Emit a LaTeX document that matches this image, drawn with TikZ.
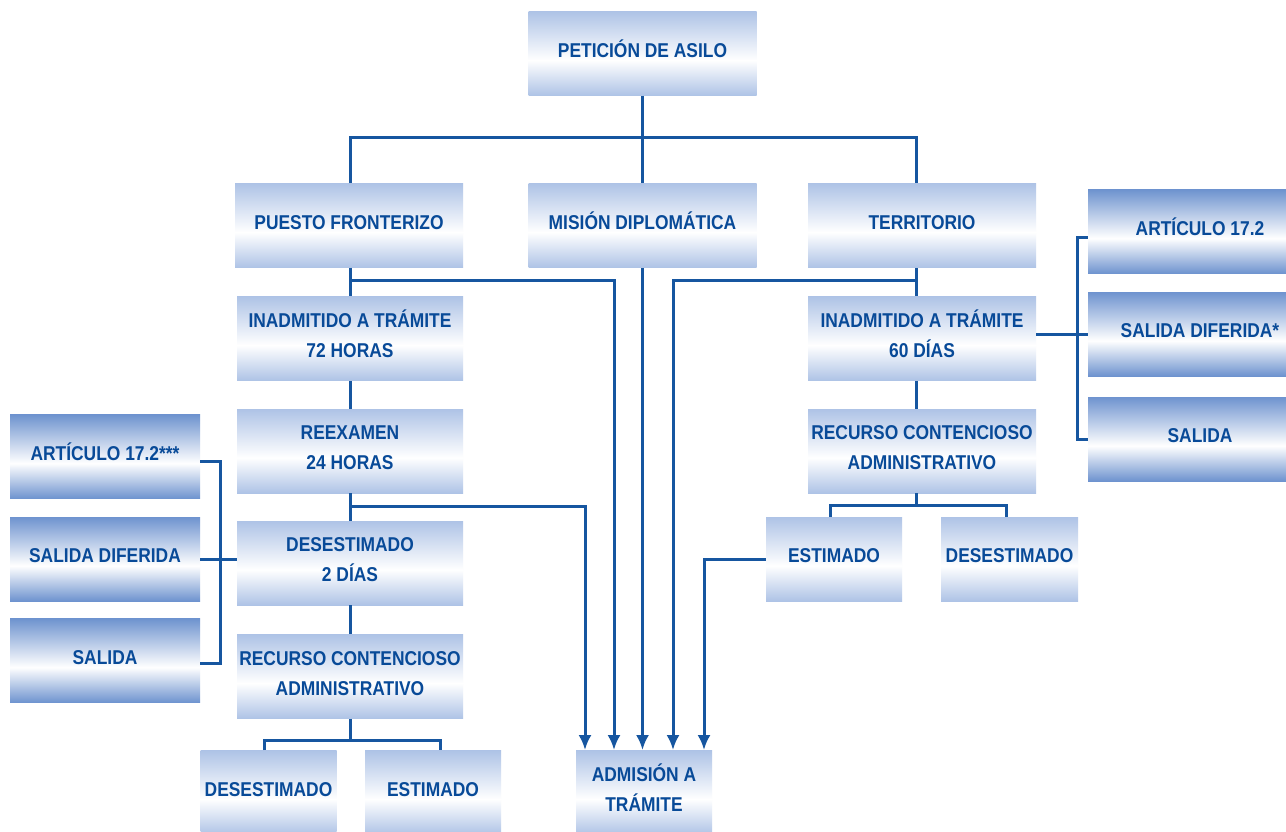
\documentclass[tikz,border=0pt]{standalone}
\usepackage{fontspec}
\setmainfont{Liberation Sans}[FakeStretch=0.87]
\usetikzlibrary{arrows.meta}
\definecolor{boxpale}{RGB}{174,195,230}
\definecolor{boxdeep}{RGB}{110,147,207}
\definecolor{lineblue}{RGB}{22,86,160}
\definecolor{textblue}{RGB}{8,74,152}
\pgfdeclareverticalshading{paleshade}{100bp}{color(0bp)=(boxpale); color(25bp)=(boxpale); color(46bp)=(white); color(75bp)=(boxpale); color(100bp)=(boxpale)}
\pgfdeclareverticalshading{deepshade}{100bp}{color(0bp)=(boxdeep); color(25bp)=(boxdeep); color(46bp)=(white); color(75bp)=(boxdeep); color(100bp)=(boxdeep)}

\begin{document}
\begin{tikzpicture}[x=0.5pt,y=-0.5pt,>={Latex[length=7.5pt,width=6.5pt]},
    box/.style={shade,shading=paleshade,inner sep=0pt,minimum width=#1,text width=#1,minimum height=42pt,
      text height=7.2pt,text depth=3.5pt,
      text=textblue,font=\bfseries\fontsize{10}{15}\selectfont,align=flush center},
    box/.default=114pt,
    twobox/.style={box=#1,text depth=18.5pt},
    twobox/.default=114pt,
    sidebox/.style={box=#1,shading=deepshade},
    link/.style={draw=lineblue,line width=1.5pt}]
  \useasboundingbox[fill=white] (0,0) rectangle (1286,831);

  \node[box] (pet) at (642.5,53.5) {PETICIÓN DE ASILO};
  \node[box] (pue) at (349,225.5) {PUESTO FRONTERIZO};
  \node[box] (mis) at (642.5,225.5) {MISIÓN DIPLOMÁTICA};
  \node[box] (ter) at (922,225.5) {TERRITORIO};

  % frontera
  \node[twobox=113pt] (ina) at (350,338.5) {INADMITIDO A TRÁMITE\\72 HORAS};
  \node[twobox=113pt] (ree) at (350,451) {REEXAMEN\\24 HORAS};
  \node[twobox=113pt] (des) at (350,563) {DESESTIMADO\\2 DÍAS};
  \node[twobox=113pt] (rec) at (350,676.5) {RECURSO CONTENCIOSO\\ADMINISTRATIVO};
  \node[box=68pt] (desA) at (268.5,792.5) {DESESTIMADO};
  \node[box=68pt] (estA) at (433,792.5) {ESTIMADO};
  \node[twobox=68pt] (adm) at (644,792.5) {ADMISIÓN A\\TRÁMITE};
  \node[sidebox=95pt] (artL) at (105,456.5) {ARTÍCULO 17.2***};
  \node[sidebox=95pt] (difL) at (105,559) {SALIDA DIFERIDA};
  \node[sidebox=95pt] (salL) at (105,660.5) {SALIDA};

  % territorio
  \node[twobox] (inaR) at (922,338.5) {INADMITIDO A TRÁMITE\\60 DÍAS};
  \node[twobox] (recR) at (922,451) {RECURSO CONTENCIOSO\\ADMINISTRATIVO};
  \node[box=68pt] (estR) at (834,559) {ESTIMADO};
  \node[box=68.5pt] (desR) at (1009.5,559) {DESESTIMADO};
  \node[sidebox=112pt] (artR) at (1200,231.5) {ARTÍCULO 17.2};
  \node[sidebox=112pt] (difR) at (1200,334) {SALIDA DIFERIDA*};
  \node[sidebox=112pt] (salR) at (1200,439) {SALIDA};

  \coordinate (bus) at (642.5,137);
  \coordinate (pueJ) at (350,280);
  \coordinate (terJ) at (916,280);
  \coordinate (reeJ) at (350,506);
  \coordinate (brL) at (220,560);
  \coordinate (brR) at (1077,334);
  \coordinate (recJ) at (350,740);
  \coordinate (recRJ) at (916,505);

  \draw[link] (pet) -- (mis);
  \draw[link] ([xshift=0.5pt]pue.north) |- (bus) -| ([xshift=-3pt]ter.north);
  \draw[link] ([xshift=0.5pt]pue.south) -- (ina);
  \draw[link] (ina) -- (ree);
  \draw[link] (ree) -- (des);
  \draw[link] (des) -- (rec);
  \draw[link] (rec) -- (recJ);
  \draw[link] ([xshift=-2pt]desA.north) |- (recJ) -| ([xshift=3.5pt]estA.north);
  \draw[link] ([yshift=-2.25pt]artL.east) -| (brL) |- ([yshift=-1.25pt]salL.east);
  \draw[link] (difL.east) -- (difL.east -| des.west);

  \draw[link] ([xshift=-3pt]ter.south) -- ([xshift=-3pt]inaR.north);
  \draw[link] ([xshift=-3pt]inaR.south) -- ([xshift=-3pt]recR.north);
  \draw[link] ([xshift=-3pt]recR.south) -- (recRJ);
  \draw[link] ([xshift=-2pt]estR.north) |- (recRJ) -| ([xshift=-1.75pt]desR.north);
  \draw[link] ([yshift=-2.75pt]artR.west) -| (brR) |- (salR.west);
  \draw[link] (difR.west) -- (difR.west -| inaR.east);

  % hacia admision
  \draw[link,->] (reeJ) -| ([xshift=-29.5pt]adm.north);
  \draw[link,->] (pueJ) -| ([xshift=-15pt]adm.north);
  \draw[link,->] (mis) -- (mis.south |- adm.north);
  \draw[link,->] (terJ) -| ([xshift=14.5pt]adm.north);
  \draw[link,->] (estR.west) -| ([xshift=30pt]adm.north);
\end{tikzpicture}
\end{document}
